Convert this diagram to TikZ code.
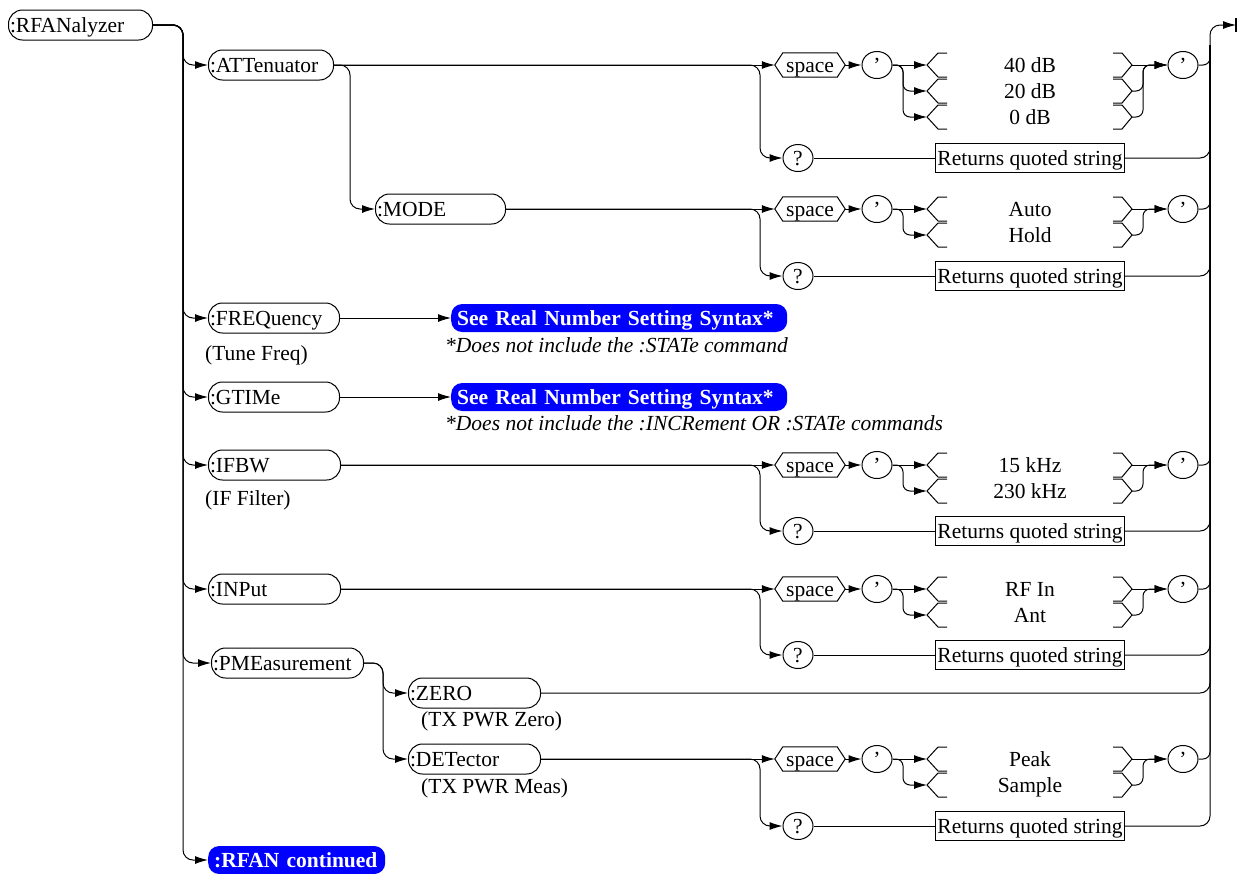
\documentclass[tikz,border=0pt]{standalone}
\usepackage{fontspec}
\setmainfont{Liberation Serif}
\usetikzlibrary{arrows.meta,shapes.geometric,calc}

\newcommand\hexa[3]{%
  \node[hexn] (#1) at (810,#2) {#3};
  \draw[brk] (#1.west) -- ([xshift=8pt]#1.north west) -- ([xshift=-8pt]#1.north east) -- (#1.east) -- ([xshift=-8pt]#1.south east) -- ([xshift=8pt]#1.south west) -- cycle;
}
\newcommand\chitem[3]{%
  \node[itm] (#1) at (1030,#2) {#3};
  \coordinate (#1-l) at (927,#2);
  \coordinate (#1-r) at (1132,#2);
  \draw[brk] (947,#2-12) -- (938,#2-12) -- (#1-l) -- (938,#2+12) -- (947,#2+12);
  \draw[brk] (1113,#2-12) -- (1122,#2-12) -- (#1-r) -- (1122,#2+12) -- (1113,#2+12);
}
\newcommand\optstart[4]{%
  \hexa{#1s}{#3}{space}
  \node[qc] (#1c1) at (877,#3) {'};
  \node[qc] (#1c2) at (1183,#3) {'};
  \coordinate (#1fk) at (760,#3);
  \coordinate (#1f) at (903,#3);
  \coordinate (#1m) at (1143,#3);
  \node[qc] (#1q) at (798,#4) {?};
  \node[retbox] (#1b) at (1030,#4) {Returns quoted string};
  \draw[conn,arr] (#2.east) -- (#1s.west);
  \draw[conn,arr] (#1s.east) -- (#1c1.west);
  \draw[conn,rc,arr] (#2.east) -- (#1fk) |- (#1q.west);
  \draw[conn] (#1q.east) -- (#1b.west);
  \draw[conn,rc] (#1b.east) -| (rsA);
  \draw[conn,rcs] (#1c2.east) -| (rsA);
}
\newcommand\firstitem[2]{%
  \draw[conn,arr] (#1c1.east) -- (#2-l);
  \draw[conn,arr] (#2-r) -- (#1c2.west);
}
\newcommand\moreitem[2]{%
  \draw[conn,rcs,arr] (#1c1.east) -- (#1f) |- (#2-l);
  \draw[conn,rcs,arr] (#2-r) -| (#1m) -- (#1c2.west);
}

\begin{document}
\begin{tikzpicture}[x=1pt,y=-1pt,
  font=\fontsize{21.5}{24}\selectfont,
  tx/.style={text height=15pt, text depth=1pt},
  conn/.style={line width=1pt},
  arr/.style={-{Latex[length=13pt,width=8pt]}},
  rc/.style={rounded corners=10pt},
  rcs/.style={rounded corners=7pt},
  cmd/.style={tx, draw, line width=1pt, rounded corners=14pt, minimum height=30pt,
    inner xsep=1.5pt, inner ysep=0pt, align=left, anchor=west},
  bluebox/.style={tx, fill=blue, text=white, font=\fontsize{21.5}{24}\selectfont\bfseries,
    rounded corners=11pt, minimum height=28pt, inner xsep=6pt, inner ysep=0pt,
    align=left, anchor=west},
  qc/.style={tx, draw, ellipse, line width=1pt, minimum width=30pt, minimum height=27pt, inner sep=0pt},
  retbox/.style={tx, draw, line width=1pt, inner xsep=2pt, inner ysep=0pt, minimum height=29pt},
  hexn/.style={tx, inner sep=0pt, minimum width=70pt, minimum height=24pt},
  itm/.style={tx, inner sep=0pt},
  brk/.style={line width=1pt},
  lbl/.style={tx, anchor=west, inner sep=0pt},
  note/.style={tx, anchor=west, inner sep=0pt, font=\fontsize{21.5}{24}\selectfont\itshape}
]
\useasboundingbox (0,0) rectangle (1241,873);

% right return spine
\coordinate (rsA) at (1210,45);
\coordinate (endc) at (1236,25);
\draw[conn,rc,arr] (rsA) |- (endc);
\draw[line width=1.2pt] ([yshift=7pt]endc) -- ([yshift=-7pt]endc);

% command nodes
\node[cmd, text width=141pt] (rfa) at (8,25) {:RFANalyzer};
\node[cmd, text width=122pt] (att) at (208,65) {:ATTenuator};
\node[cmd, text width=127pt] (mode) at (375,209) {:MODE};
\node[cmd, text width=128pt] (freq) at (208,318) {:FREQuency};
\node[cmd, text width=128pt] (gtime) at (208,397) {:GTIMe};
\node[cmd, text width=129pt] (ifbw) at (208,465) {:IFBW};
\node[cmd, text width=129pt] (inp) at (208,589) {:INPut};
\node[cmd, text width=149pt] (pme) at (211,663) {:PMEasurement};
\node[cmd, text width=129pt] (zero) at (408,693) {:ZERO};
\node[cmd, text width=129pt] (det) at (408,759) {:DETector};

\node[bluebox, text width=324pt] (see1) at (451,318) {See Real Number Setting Syntax*};
\node[bluebox, text width=324pt] (see2) at (451,397) {See Real Number Setting Syntax*};
\node[bluebox, text width=165pt] (rfanc) at (208,860) {:RFAN continued};

% labels
\node[lbl] (tf) at (205,353) {(Tune Freq)};
\node[note] (n1) at (445,345) {*Does not include the :STATe command};
\node[note] (n2) at (445,423) {*Does not include the :INCRement OR :STATe commands};
\node[lbl] (iff) at (205,498) {(IF Filter)};
\node[lbl] (tz) at (421,719) {(TX PWR Zero)};
\node[lbl] (tm) at (421,786) {(TX PWR Meas)};

% main spine
\coordinate (sp) at (183,25);
\foreach \n in {att,freq,gtime,ifbw,inp,pme,rfanc}{
  \draw[conn,rc,arr] (rfa.east) -| (sp |- \n.west) -- (\n.west);
}
\coordinate (av) at (350,65);
\draw[conn,rc,arr] (att.east) -| (av |- mode.west) -- (mode.west);
\coordinate (pv) at (383,663);
\draw[conn,rc,arr] (pme.east) -| (pv |- zero.west) -- (zero.west);
\draw[conn,rc,arr] (pme.east) -| (pv |- det.west) -- (det.west);

\draw[conn,arr] (freq.east) -- (see1.west);
\draw[conn,arr] (gtime.east) -- (see2.west);
\draw[conn,rc] (zero.east) -| (rsA);

% ATTenuator
\optstart{a}{att}{65}{158}
\chitem{a1}{65}{40 dB}
\chitem{a2}{91}{20 dB}
\chitem{a3}{117}{0 dB}
\firstitem{a}{a1}
\moreitem{a}{a2}
\moreitem{a}{a3}

% MODE
\optstart{m}{mode}{209}{276}
\chitem{m1}{209}{Auto}
\chitem{m2}{235}{Hold}
\firstitem{m}{m1}
\moreitem{m}{m2}

% IFBW
\optstart{i}{ifbw}{465}{531}
\chitem{i1}{465}{15 kHz}
\chitem{i2}{491}{230 kHz}
\firstitem{i}{i1}
\moreitem{i}{i2}

% INPut
\optstart{n}{inp}{589}{655}
\chitem{n1i}{589}{RF In}
\chitem{n2i}{615}{Ant}
\firstitem{n}{n1i}
\moreitem{n}{n2i}

% DETector
\optstart{d}{det}{759}{826}
\chitem{d1}{759}{Peak}
\chitem{d2}{785}{Sample}
\firstitem{d}{d1}
\moreitem{d}{d2}
\end{tikzpicture}
\end{document}
